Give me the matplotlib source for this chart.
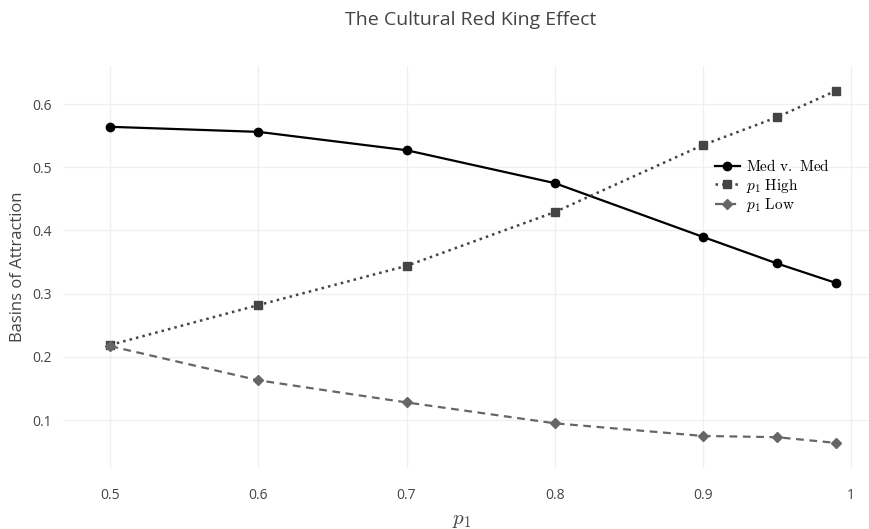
import matplotlib.pyplot as plt

# data
p1 = [0.5, 0.6, 0.7, 0.8, 0.9, 0.95, 0.99]
med_v_med = [0.564, 0.556, 0.527, 0.475, 0.390, 0.348, 0.317]
p1_high = [0.219, 0.282, 0.344, 0.429, 0.535, 0.579, 0.621]
p1_low = [0.217, 0.163, 0.128, 0.095, 0.075, 0.073, 0.064]

xticks = [0.5, 0.6, 0.7, 0.8, 0.9, 1.0]
xtick_labels = ['0.5', '0.6', '0.7', '0.8', '0.9', '1']
yticks = [0.1, 0.2, 0.3, 0.4, 0.5, 0.6]

plt.rcParams['font.family'] = 'Open Sans'
plt.rcParams['mathtext.fontset'] = 'cm'

fig = plt.figure(figsize=(8.7, 5.29), dpi=100)
ax = fig.add_axes([0.0724, 0.115, 0.9276, 0.76])

ax.plot(p1, med_v_med, '-', color='black', lw=1.6, marker='o', markersize=6,
        label=r'$\mathrm{Med\ v.\ Med}$')
ax.plot(p1, p1_high, ':', color='#444444', lw=1.8, marker='s', markersize=6,
        label=r'$p_1\ \mathrm{High}$')
ax.plot(p1, p1_low, '--', color='#666666', lw=1.6, marker='D', markersize=5.5,
        label=r'$p_1\ \mathrm{Low}$', dashes=(3.5, 2.5))

ax.set_xlim(0.468, 1.013)
ax.set_ylim(0.024, 0.66)
ax.set_xticks(xticks)
ax.set_xticklabels(xtick_labels)
ax.set_yticks(yticks)
ax.grid(True, color='#f0f0f0', lw=1)
ax.set_axisbelow(True)
for s in ax.spines.values():
    s.set_visible(False)
ax.tick_params(length=0, colors='#444444', labelsize=10, pad=14)
ax.tick_params(axis='y', pad=8)

ax.set_ylabel('Basins of Attraction', fontsize=12, color='#444444', va='center')
ax.yaxis.set_label_coords(-0.056, 0.5)
ax.set_xlabel(r'$p_1$', fontsize=15, color='#444444', va='center')
ax.xaxis.set_label_coords(0.494, -0.128)
fig.suptitle('The Cultural Red King Effect', x=0.541, y=0.98, fontsize=14,
             color='#444444')

ax.legend(loc='upper left', bbox_to_anchor=(0.795, 0.795), frameon=False,
          fontsize=11, handlelength=1.6, labelspacing=0.1, handletextpad=0.4,
          borderpad=0.2)

fig.savefig('out.png', dpi=100)
